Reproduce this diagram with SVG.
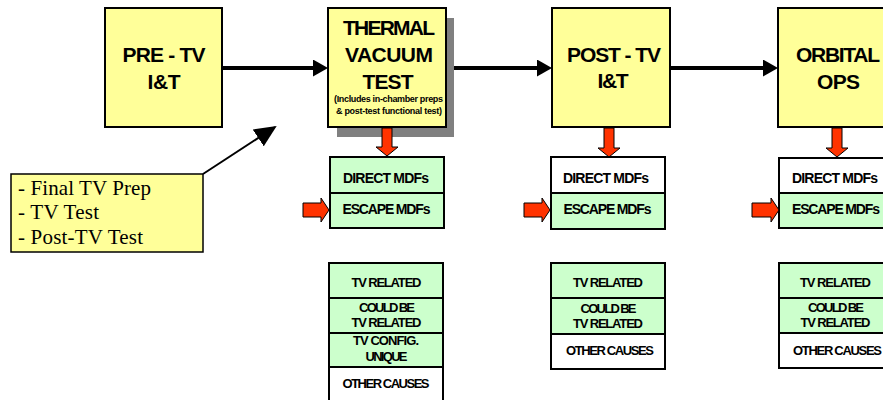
<svg xmlns="http://www.w3.org/2000/svg" width="883" height="400" viewBox="0 0 883 400">
<style>
.box{fill:#FFFF99;stroke:#000;stroke-width:2}
.g{fill:#CCFFCC;stroke:#000;stroke-width:2}
.w{fill:#FFFFFF;stroke:#000;stroke-width:2}
.shadow{fill:#808080}
.big{font-family:"Liberation Sans",Arial,sans-serif;font-weight:bold;font-size:21px;text-anchor:middle;fill:#000}
.sm{font-family:"Liberation Sans",Arial,sans-serif;font-weight:bold;font-size:13px;text-anchor:middle;fill:#000}
.md{font-family:"Liberation Sans",Arial,sans-serif;font-weight:bold;font-size:14px;text-anchor:middle;fill:#000}
.tiny{font-family:"Liberation Sans",Arial,sans-serif;font-weight:bold;font-size:9px;text-anchor:middle;fill:#000}
.note{font-family:"Liberation Serif","Times New Roman",serif;font-size:21px;fill:#000}
.red{fill:#FF3300;stroke:#000;stroke-width:1}
.flow{stroke:#000;stroke-width:4;fill:none}
.thin{stroke:#000;stroke-width:2;fill:none}
</style>
<defs>
<marker id="bigHead" viewBox="0 0 15 17" refX="5" refY="8.5" markerWidth="15" markerHeight="17" markerUnits="userSpaceOnUse" orient="auto">
<path d="M0,0 L15,8.5 L0,17 z" fill="#000"/>
</marker>
<marker id="diagHead" viewBox="0 0 22 20" refX="20" refY="10" markerWidth="22" markerHeight="20" markerUnits="userSpaceOnUse" orient="auto">
<path d="M0,0 L22,10 L0,20 z" fill="#000"/>
</marker>
</defs>

<g id="connectors">
<line class="flow" x1="222" y1="68" x2="318" y2="68" marker-end="url(#bigHead)"/>
<line class="flow" x1="446" y1="68" x2="542" y2="68" marker-end="url(#bigHead)"/>
<line class="flow" x1="670" y1="68" x2="768" y2="68" marker-end="url(#bigHead)"/>
<line class="thin" x1="203" y1="174" x2="275" y2="127" marker-end="url(#diagHead)"/>
</g>

<g id="pre-tv">
<rect class="box" x="105" y="8" width="117" height="119"/>
<text class="big" x="164" y="62" textLength="83">PRE - TV</text>
<text class="big" x="164" y="89" textLength="33">I&amp;T</text>
</g>

<g id="thermal-vacuum">
<rect class="shadow" x="337" y="18" width="117" height="119"/>
<rect class="box" x="328" y="8" width="118" height="119"/>
<text class="big" x="389" y="35" textLength="92">THERMAL</text>
<text class="big" x="389" y="62" textLength="88">VACUUM</text>
<text class="big" x="388" y="89" textLength="51">TEST</text>
<text class="tiny" x="388.5" y="102" textLength="109">(Includes in-chamber preps</text>
<text class="tiny" x="389" y="114" textLength="106">&amp; post-test functional test)</text>
</g>

<g id="post-tv">
<rect class="box" x="552" y="8" width="118" height="119"/>
<text class="big" x="614" y="62" textLength="94">POST - TV</text>
<text class="big" x="613" y="88" textLength="31">I&amp;T</text>
</g>

<g id="orbital-ops">
<rect class="box" x="778" y="8" width="118" height="119"/>
<text class="big" x="838" y="62" textLength="84">ORBITAL</text>
<text class="big" x="838.5" y="89" textLength="43">OPS</text>
</g>

<g id="notes">
<rect class="box" x="11" y="174" width="192" height="78" style="stroke-width:1.5"/>
<text class="note" x="18" y="195" textLength="133">- Final TV Prep</text>
<text class="note" x="18" y="219" textLength="81">- TV Test</text>
<text class="note" x="18" y="244" textLength="125">- Post-TV Test</text>
</g>

<g id="thermal-mdfs">
<polygon class="red" points="382,128 392,128 392,147 398,147 387,156 376,147 382,147"/>
<rect class="g" x="330" y="157" width="114" height="36"/>
<rect class="g" x="330" y="193" width="114" height="35"/>
<text class="md" x="386" y="183" textLength="86">DIRECT MDFs</text>
<text class="md" x="386.5" y="214" textLength="88">ESCAPE MDFs</text>
<polygon class="red" points="303,203 321,203 321,198 329,210 321,222 321,217 303,217"/>
</g>

<g id="thermal-causes">
<rect class="g" x="329" y="263" width="114" height="35"/>
<rect class="g" x="329" y="298" width="114" height="35"/>
<rect class="g" x="329" y="333" width="114" height="34"/>
<rect class="w" x="329" y="367" width="114" height="40"/>
<text class="sm" x="386.5" y="287" textLength="70">TV RELATED</text>
<text class="sm" x="387" y="312" textLength="56">COULD BE</text>
<text class="sm" x="386.5" y="327" textLength="70">TV RELATED</text>
<text class="sm" x="386" y="345" textLength="66">TV CONFIG.</text>
<text class="sm" x="386.5" y="361" textLength="42">UNIQUE</text>
<text class="sm" x="386" y="388" textLength="87">OTHER CAUSES</text>
</g>

<g id="post-mdfs">
<polygon class="red" points="604,128 614,128 614,148 620,148 609,157 598,148 604,148"/>
<rect class="w" x="551" y="157" width="114" height="36"/>
<rect class="g" x="551" y="193" width="114" height="36"/>
<text class="md" x="606" y="183" textLength="86">DIRECT MDFs</text>
<text class="md" x="607.5" y="214" textLength="88">ESCAPE MDFs</text>
<polygon class="red" points="524,203 542,203 542,198 550,210 542,222 542,217 524,217"/>
</g>

<g id="post-causes">
<rect class="g" x="551" y="263" width="114" height="35"/>
<rect class="g" x="551" y="298" width="114" height="36"/>
<rect class="w" x="551" y="334" width="114" height="35"/>
<text class="sm" x="608" y="287" textLength="70">TV RELATED</text>
<text class="sm" x="608.5" y="313" textLength="56">COULD BE</text>
<text class="sm" x="608" y="328" textLength="70">TV RELATED</text>
<text class="sm" x="610" y="355" textLength="88">OTHER CAUSES</text>
</g>

<g id="orbital-mdfs">
<polygon class="red" points="832,128 842,128 842,148 848,148 837,157 826,148 832,148"/>
<rect class="w" x="779" y="158" width="114" height="35"/>
<rect class="g" x="779" y="193" width="114" height="35"/>
<text class="md" x="835" y="183" textLength="86">DIRECT MDFs</text>
<text class="md" x="836" y="214" textLength="88">ESCAPE MDFs</text>
<polygon class="red" points="752,203 771,203 771,198 779,210 771,222 771,217 752,217"/>
</g>

<g id="orbital-causes">
<rect class="g" x="779" y="263" width="114" height="35"/>
<rect class="g" x="779" y="298" width="114" height="35"/>
<rect class="w" x="779" y="333" width="114" height="35"/>
<text class="sm" x="835.5" y="287" textLength="71">TV RELATED</text>
<text class="sm" x="836" y="312" textLength="56">COULD BE</text>
<text class="sm" x="835.5" y="327" textLength="70">TV RELATED</text>
<text class="sm" x="837.5" y="355" textLength="89">OTHER CAUSES</text>
</g>
</svg>
